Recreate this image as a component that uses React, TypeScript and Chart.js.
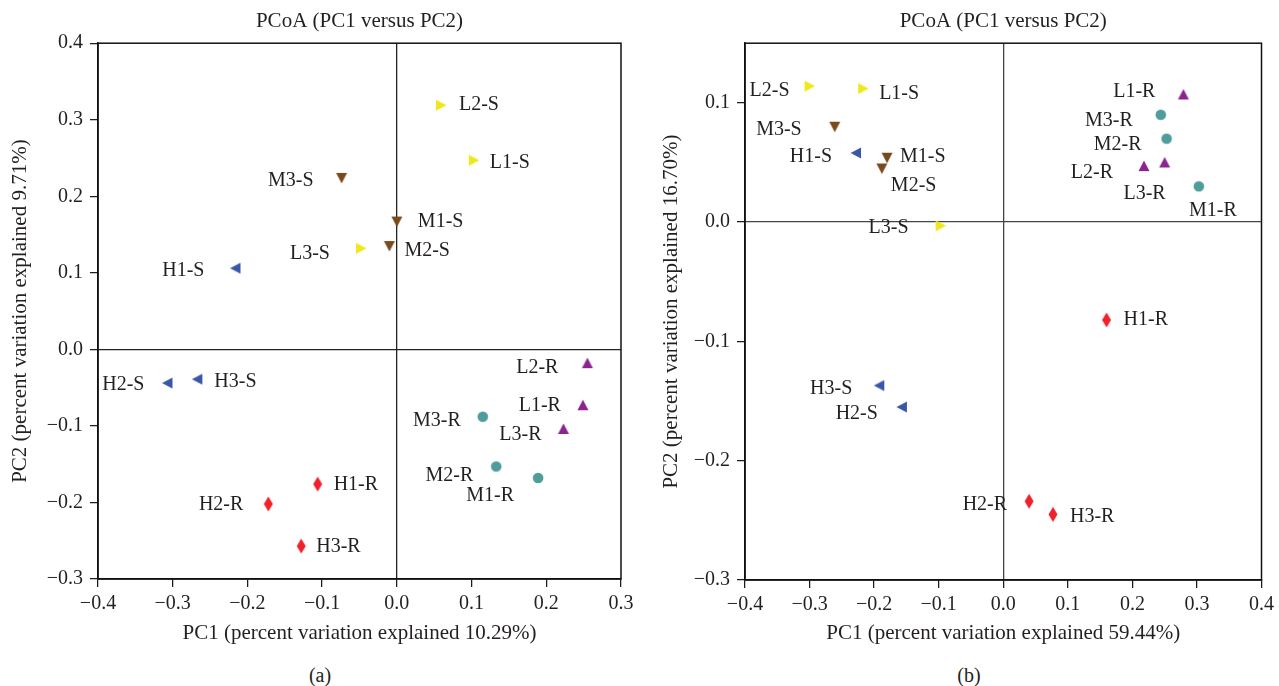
import React, { useEffect, useRef } from "react";
import { Chart, registerables } from "chart.js";

Chart.register(...registerables);

// ---------- data ----------
const samples = [
  "L1-S", "L2-S", "L3-S", "M1-S", "M2-S", "M3-S", "H1-S", "H2-S", "H3-S",
  "L1-R", "L2-R", "L3-R", "M1-R", "M2-R", "M3-R", "H1-R", "H2-R", "H3-R",
];

// Panel (a)
const pc1A = [0.103, 0.059, -0.048, 0.0, -0.01, -0.074, -0.216, -0.307, -0.267,
  0.249, 0.255, 0.223, 0.189, 0.133, 0.115, -0.106, -0.172, -0.128];
const pc2A = [0.247, 0.319, 0.132, 0.167, 0.135, 0.224, 0.106, -0.044, -0.039,
  -0.073, -0.018, -0.104, -0.168, -0.153, -0.088, -0.176, -0.202, -0.257];

// Panel (b)
const pc1B = [-0.217, -0.300, -0.097, -0.180, -0.188, -0.261, -0.228, -0.157, -0.192,
  0.279, 0.218, 0.250, 0.303, 0.253, 0.244, 0.160, 0.040, 0.077];
const pc2B = [0.112, 0.114, -0.003, 0.054, 0.045, 0.080, 0.058, -0.155, -0.137,
  0.107, 0.047, 0.050, 0.030, 0.070, 0.090, -0.082, -0.234, -0.245];

const xTicksA = [-0.4, -0.3, -0.2, -0.1, 0.0, 0.1, 0.2, 0.3];
const yTicksA = [-0.3, -0.2, -0.1, 0.0, 0.1, 0.2, 0.3, 0.4];
const xTicksB = [-0.4, -0.3, -0.2, -0.1, 0.0, 0.1, 0.2, 0.3, 0.4];
const yTicksB = [-0.3, -0.2, -0.1, 0.0, 0.1];

const titleText = "PCoA (PC1 versus PC2)";
const xTitleA = "PC1 (percent variation explained 10.29%)";
const yTitleA = "PC2 (percent variation explained 9.71%)";
const xTitleB = "PC1 (percent variation explained 59.44%)";
const yTitleB = "PC2 (percent variation explained 16.70%)";

// ---------- label anchors (align, dx, dy) ----------
type Anchor = [CanvasTextAlign, number, number];
const labelAnchorA: Anchor[] = [
  ["left", 16, 2], ["left", 18, 0], ["right", -31, 5], ["left", 21, 0], ["left", 15, 5],
  ["right", -28, 3], ["right", -31, 3], ["right", -23, 2], ["left", 17, 3],
  ["right", -22, 1], ["right", -29, 5], ["right", -22, 6], ["right", -24, 18],
  ["right", -23, 9], ["right", -22, 4], ["left", 16, 1], ["right", -25, 1], ["left", 15, 1],
];
const labelAnchorB: Anchor[] = [
  ["left", 16, 5], ["right", -20, 5], ["right", -32, 2], ["left", 13, -1], ["left", 9, 17],
  ["right", -33, 3], ["right", -24, 4], ["right", -24, 7], ["right", -27, 3],
  ["right", -28, -3], ["right", -31, 7], ["right", 1, 31], ["center", 14, 24],
  ["right", -25, 6], ["right", -28, 6], ["left", 17, 0], ["right", -22, 3], ["left", 17, 2],
];

// ---------- styles ----------
const FONT = "'Liberation Serif', 'Times New Roman', serif";
const TEXT = "#231F20";
const groupStyle: Record<string, { shape: string; color: string }> = {
  "L-S": { shape: "right", color: "#EFE81A" },
  "M-S": { shape: "down", color: "#7A4A1C" },
  "H-S": { shape: "left", color: "#3A57A7" },
  "L-R": { shape: "up", color: "#8C2391" },
  "M-R": { shape: "circle", color: "#4F9D9B" },
  "H-R": { shape: "diamond", color: "#EE2229" },
};
const groupOrder = ["L-S", "M-S", "H-S", "L-R", "M-R", "H-R"];

function makeMarker(shape: string, color: string): HTMLCanvasElement {
  const c = document.createElement("canvas");
  const w = shape === "diamond" ? 12 : 14;
  const h = shape === "diamond" ? 18 : 14;
  c.width = w;
  c.height = h;
  const ctx = c.getContext("2d")!;
  const cx = w / 2, cy = h / 2;
  ctx.fillStyle = color;
  ctx.beginPath();
  if (shape === "right") {
    ctx.moveTo(cx - 5, cy - 5.5); ctx.lineTo(cx + 5.5, cy); ctx.lineTo(cx - 5, cy + 5.5);
  } else if (shape === "left") {
    ctx.moveTo(cx + 5, cy - 5.5); ctx.lineTo(cx - 5.5, cy); ctx.lineTo(cx + 5, cy + 5.5);
  } else if (shape === "down") {
    ctx.moveTo(cx - 5.5, cy - 5); ctx.lineTo(cx + 5.5, cy - 5); ctx.lineTo(cx, cy + 5.5);
  } else if (shape === "up") {
    ctx.moveTo(cx - 5.5, cy + 5); ctx.lineTo(cx + 5.5, cy + 5); ctx.lineTo(cx, cy - 5.5);
  } else if (shape === "circle") {
    ctx.arc(cx, cy, 5.3, 0, Math.PI * 2);
  } else {
    ctx.moveTo(cx, cy - 7.5); ctx.lineTo(cx + 4.5, cy); ctx.lineTo(cx, cy + 7.5); ctx.lineTo(cx - 4.5, cy);
  }
  ctx.closePath();
  ctx.fill();
  return c;
}

function fmt(v: number | string) {
  const n = Number(v);
  return (n < 0 ? "\u2212" : "") + Math.abs(n).toFixed(1);
}

const framePlugin = {
  id: "frame",
  afterDraw(chart: any) {
    const { ctx, chartArea: a } = chart;
    ctx.save();
    ctx.strokeStyle = "#111";
    ctx.lineWidth = 1.5;
    ctx.strokeRect(a.left, a.top, a.right - a.left, a.bottom - a.top);
    ctx.restore();
  },
};

const labelPlugin = {
  id: "pointLabels",
  afterDatasetsDraw(chart: any, _args: any, opts: any) {
    const ctx = chart.ctx;
    const anchors: Anchor[] = opts.anchors;
    ctx.save();
    ctx.font = `20px ${FONT}`;
    ctx.fillStyle = TEXT;
    ctx.textBaseline = "middle";
    chart.data.datasets.forEach((ds: any, di: number) => {
      const meta = chart.getDatasetMeta(di);
      meta.data.forEach((el: any, i: number) => {
        const d = ds.data[i];
        const [align, dx, dy] = anchors[d.idx];
        ctx.textAlign = align;
        ctx.fillText(d.name, el.x + dx, el.y + dy);
      });
    });
    ctx.restore();
  },
};

interface PanelCfg {
  pc1: number[];
  pc2: number[];
  anchors: Anchor[];
  xTicks: number[];
  yTicks: number[];
  xMin: number; xMax: number; yMin: number; yMax: number;
  xTitle: string; yTitle: string;
  yAxisWidth: number; xAxisHeight: number;
  yTitlePad: number; padRight: number;
  zeroColor: string;
}

function buildChart(canvas: HTMLCanvasElement, p: PanelCfg) {
  const datasets = groupOrder.map((g) => {
    const st = groupStyle[g];
    const img = makeMarker(st.shape, st.color);
    const data = samples
      .map((name, idx) => ({ name, idx, x: p.pc1[idx], y: p.pc2[idx] }))
      .filter((d) => `${d.name[0]}-${d.name.slice(-1)}` === g);
    return {
      label: g,
      data,
      pointStyle: img,
      pointRadius: 6,
      backgroundColor: st.color,
      borderColor: st.color,
      showLine: false,
    };
  });

  const gridCfg = (zeroColor: string) => ({
    display: true,
    drawOnChartArea: true,
    drawTicks: true,
    tickLength: 8,
    tickColor: "#111",
    tickWidth: 1.2,
    lineWidth: 1.3,
    color: (c: any) => (c.tick && Math.abs(c.tick.value) < 1e-9 ? zeroColor : "rgba(0,0,0,0)"),
  });

  return new Chart(canvas, {
    type: "scatter",
    data: { datasets } as any,
    plugins: [framePlugin, labelPlugin],
    options: {
      animation: false,
      responsive: false,
      events: [],
      layout: { padding: { left: 0, right: p.padRight, top: 0, bottom: 0 } },
      plugins: {
        legend: { display: false },
        tooltip: { enabled: false },
        title: {
          display: true,
          text: titleText,
          fullSize: false,
          color: TEXT,
          font: { family: FONT, size: 21, weight: "normal", lineHeight: 1.2 },
          padding: { top: 9, bottom: 9 },
        },
        pointLabels: { anchors: p.anchors },
      } as any,
      scales: {
        x: {
          type: "linear",
          min: p.xMin,
          max: p.xMax,
          afterBuildTicks: (s: any) => { s.ticks = p.xTicks.map((v) => ({ value: v })); },
          afterFit: (s: any) => { s.height = p.xAxisHeight; },
          ticks: {
            callback: (v: any) => fmt(v),
            color: TEXT,
            font: { family: FONT, size: 20 },
            padding: 5,
            maxRotation: 0,
            autoSkip: false,
          },
          grid: gridCfg(p.zeroColor),
          border: { display: true, color: "#111", width: 1.5 },
          title: {
            display: true,
            text: p.xTitle,
            color: TEXT,
            font: { family: FONT, size: 21, lineHeight: 1.2 },
            padding: { top: 0, bottom: 14 },
          },
        },
        y: {
          type: "linear",
          min: p.yMin,
          max: p.yMax,
          afterBuildTicks: (s: any) => { s.ticks = p.yTicks.map((v) => ({ value: v })); },
          afterFit: (s: any) => { s.width = p.yAxisWidth; },
          ticks: {
            callback: (v: any) => fmt(v),
            color: TEXT,
            font: { family: FONT, size: 20 },
            padding: 7,
            autoSkip: false,
          },
          grid: gridCfg(p.zeroColor),
          border: { display: true, color: "#111", width: 1.5 },
          title: {
            display: true,
            text: p.yTitle,
            color: TEXT,
            font: { family: FONT, size: 21, lineHeight: 1.2 },
            padding: { top: p.yTitlePad, bottom: 0 },
          },
        },
      },
    } as any,
  });
}

export default function App() {
  const refA = useRef<HTMLCanvasElement>(null);
  const refB = useRef<HTMLCanvasElement>(null);

  useEffect(() => {
    const a = buildChart(refA.current!, {
      pc1: pc1A, pc2: pc2A, anchors: labelAnchorA,
      xTicks: xTicksA, yTicks: yTicksA,
      xMin: -0.4, xMax: 0.3, yMin: -0.3, yMax: 0.4,
      xTitle: xTitleA, yTitle: yTitleA,
      yAxisWidth: 98, xAxisHeight: 81, yTitlePad: 8, padRight: 20,
      zeroColor: "#222",
    });
    const b = buildChart(refB.current!, {
      pc1: pc1B, pc2: pc2B, anchors: labelAnchorB,
      xTicks: xTicksB, yTicks: yTicksB,
      xMin: -0.4, xMax: 0.4, yMin: -0.3, yMax: 0.15,
      xTitle: xTitleB, yTitle: yTitleB,
      yAxisWidth: 104, xAxisHeight: 80, yTitlePad: 18, padRight: 15,
      zeroColor: "#444",
    });
    return () => { a.destroy(); b.destroy(); };
  }, []);

  const capStyle: React.CSSProperties = {
    position: "absolute", top: 664, height: 26, lineHeight: "26px",
    textAlign: "center", font: `20px ${FONT}`, color: TEXT,
  };

  return (
    <div style={{ position: "absolute", left: 0, top: 0, width: 1279, height: 686, background: "#fff", overflow: "hidden" }}>
      <canvas ref={refA} width={641} height={660} style={{ position: "absolute", left: 0, top: 0 }} />
      <canvas ref={refB} width={638} height={660} style={{ position: "absolute", left: 641, top: 0 }} />
      <div style={{ ...capStyle, left: 220, width: 200 }}>(a)</div>
      <div style={{ ...capStyle, left: 869, width: 200 }}>(b)</div>
    </div>
  );
}
